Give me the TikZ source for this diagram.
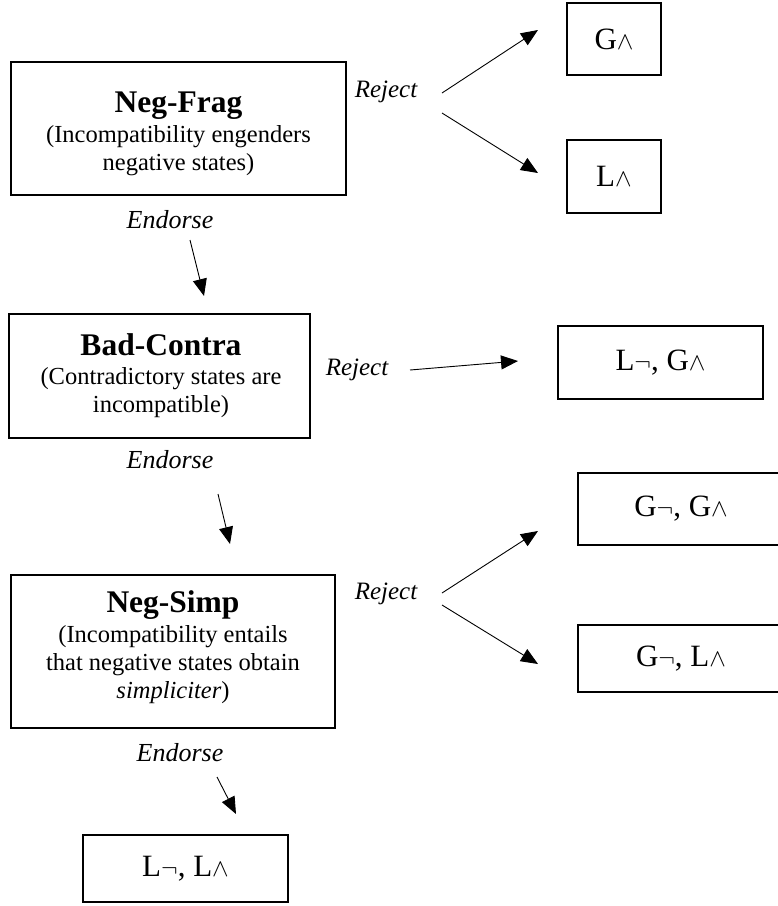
\documentclass[tikz,border=0pt]{standalone}
\usepackage{fontspec}
\setmainfont{Liberation Serif}
\usetikzlibrary{arrows.meta}
\newcommand\ttlfont{\fontsize{31.5}{34}\bfseries\selectfont}
\newcommand\subfont{\fontsize{24.5}{28}\mdseries\selectfont}
\begin{document}
\begin{tikzpicture}[x=1pt,y=-1pt,
  box/.style={draw,line width=1.8pt,inner sep=0pt},
  btxt/.style={inner sep=0pt,align=center,font=\subfont},
  lbl/.style={inner sep=0pt,font=\fontsize{25}{28}\itshape\selectfont},
  endl/.style={inner sep=0pt,font=\fontsize{26}{30}\itshape\selectfont},
  res/.style={draw,line width=1.8pt,inner sep=0pt,font=\fontsize{31}{34}\selectfont},
  arr/.style={line width=0.9pt,-{Triangle[length=17pt,width=14pt]}}]
\useasboundingbox (0,0) rectangle (778,906);
\clip (0,0) rectangle (778,906);
% main boxes
\node[box,minimum width=335pt,minimum height=133pt] (negfrag) at (178.5,128.5) {};
\node[btxt] (negfragtxt) at (178.5,134)
  {{\ttlfont Neg-Frag}\\[2pt](Incompatibility engenders\\negative states)};
\node[box,minimum width=301pt,minimum height=124pt] (badcontra) at (159.5,376) {};
\node[btxt] (badcontratxt) at (161,376)
  {{\ttlfont Bad-Contra}\\[1pt](Contradictory states are\\incompatible)};
\node[box,minimum width=324pt,minimum height=153pt] (negsimp) at (173,651.5) {};
\node[btxt] (negsimptxt) at (173,647)
  {{\ttlfont Neg-Simp}\\[2pt](Incompatibility entails\\that negative states obtain\\\textit{simpliciter})};
% result boxes
\node[res,minimum width=94pt,minimum height=72pt] (ga) at (614,39) {G$\wedge$};
\node[res,minimum width=94pt,minimum height=73pt] (la) at (614,176.5) {L$\wedge$};
\node[res,minimum width=205pt,minimum height=73pt] (lnga) at (660.5,362.5) {L$\neg$, G$\wedge$};
\node[res,minimum width=206pt,minimum height=72pt] (gnga) at (681,509) {G$\neg$, G$\wedge$};
\node[res,minimum width=206pt,minimum height=67pt] (gnla) at (681,658.5) {G$\neg$, L$\wedge$};
\node[res,minimum width=205pt,minimum height=67pt] (lnla) at (185.5,868.5) {L$\neg$, L$\wedge$};
% labels
\node[lbl] (rej1) at (386,92) {Reject};
\node[lbl] (rej2) at (357,370) {Reject};
\node[lbl] (rej3) at (386,594) {Reject};
\node[endl] (end1) at (170,220) {Endorse};
\node[endl] (end2) at (170,460) {Endorse};
\node[endl] (end3) at (180,753) {Endorse};
% arrow end points
\coordinate (r1a) at (442,93);   \coordinate (r1b) at (538,30);
\coordinate (r1c) at (442,113);  \coordinate (r1d) at (538,173);
\coordinate (r2a) at (410,370);  \coordinate (r2b) at (518,361);
\coordinate (r3a) at (442,593);  \coordinate (r3b) at (538,531);
\coordinate (r3c) at (442,605);  \coordinate (r3d) at (538,664);
\coordinate (e1a) at (190,240);  \coordinate (e1b) at (204,296);
\coordinate (e2a) at (218,494);  \coordinate (e2b) at (230,544);
\coordinate (e3a) at (217,777);  \coordinate (e3b) at (236,814);
\draw[arr] (r1a) -- (r1b);
\draw[arr] (r1c) -- (r1d);
\draw[arr] (r2a) -- (r2b);
\draw[arr] (r3a) -- (r3b);
\draw[arr] (r3c) -- (r3d);
\draw[arr] (e1a) -- (e1b);
\draw[arr] (e2a) -- (e2b);
\draw[arr] (e3a) -- (e3b);
\end{tikzpicture}
\end{document}
